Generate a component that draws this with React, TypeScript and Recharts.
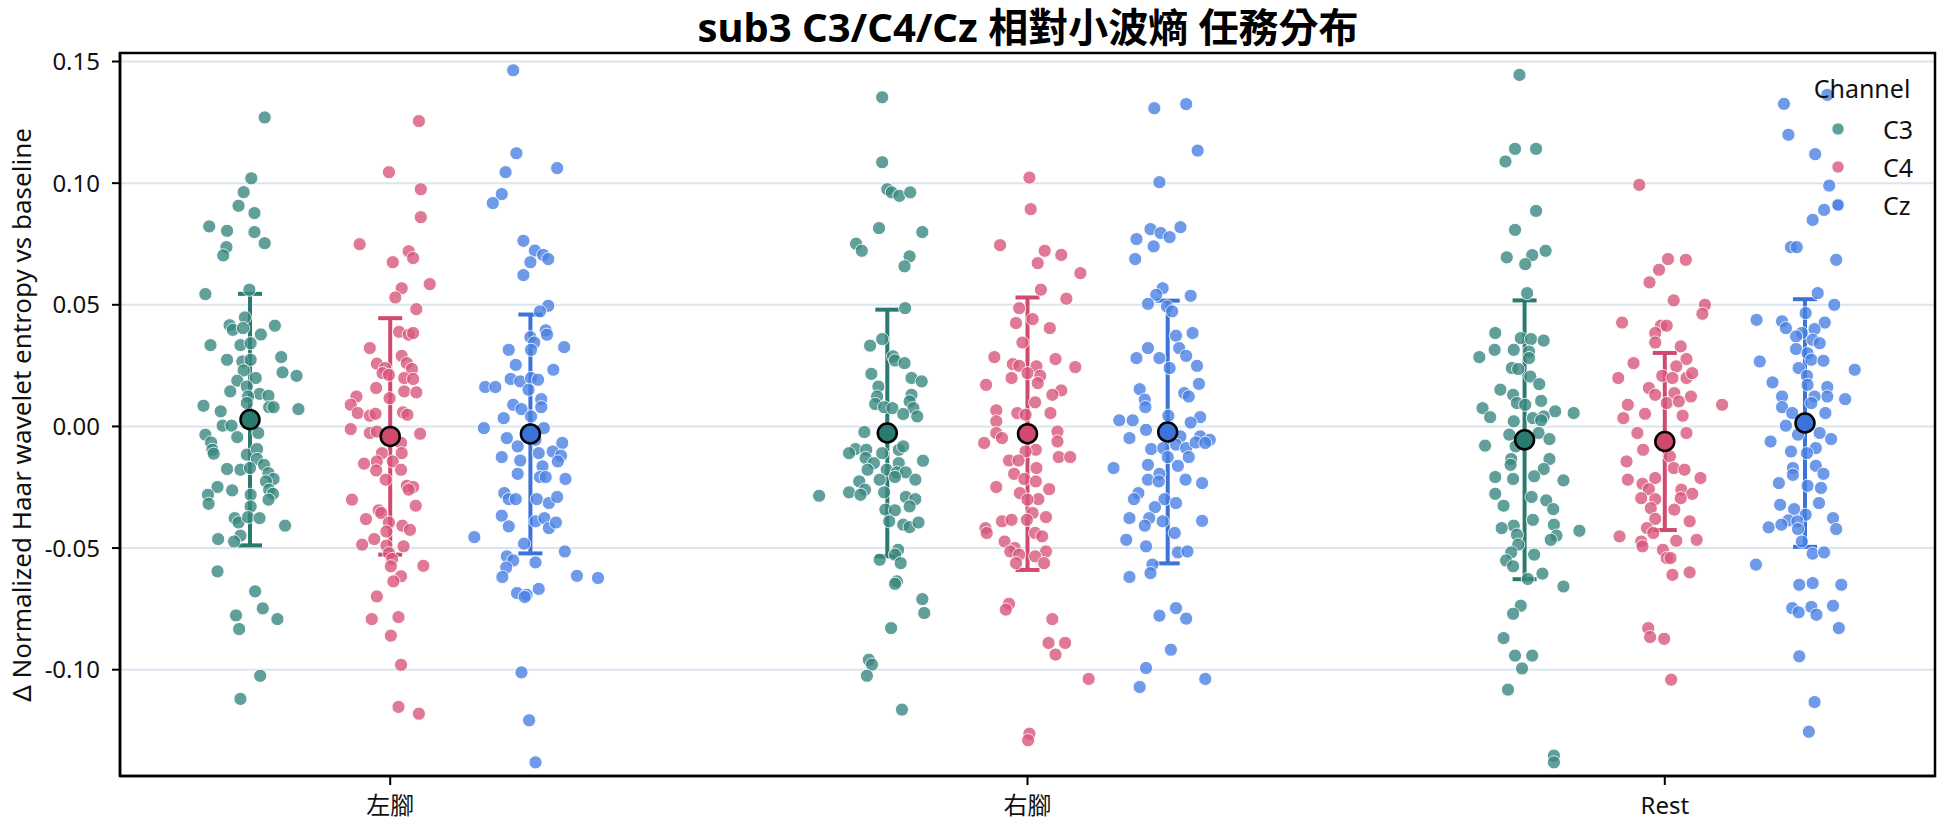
import React from 'react';
import { ScatterChart, Scatter, XAxis, YAxis, CartesianGrid, ErrorBar, ReferenceArea } from 'recharts';

const categories = ['左腳', '右腳', 'Rest'];
const channels = ['C3', 'C4', 'Cz'];
const yTicks = [-0.1, -0.05, 0, 0.05, 0.1, 0.15];
const xTicks = [0, 1, 2];

// each point: [jitter (category units), value]
const c3Left = [
  [0.023,0.127],[0.002,0.102],[-0.010,0.0963],[-0.018,0.0907],[0.007,0.0877],[-0.064,0.0822],[-0.036,0.0804],[0.007,0.0799],
  [0.023,0.0753],[-0.037,0.0737],[-0.042,0.0703],[-0.070,0.0544],[-0.001,0.0562],[-0.008,0.0448],[-0.032,0.0416],[-0.027,0.0397],
  [-0.011,0.0404],[0.039,0.0414],[0.017,0.0378],[-0.062,0.0334],[-0.015,0.0334],[0.001,0.0342],[-0.036,0.0274],[-0.012,0.0267],
  [0.001,0.0274],[0.049,0.0285],[-0.010,0.023],[0.051,0.0222],[0.073,0.0208],[0.009,0.0199],[-0.020,0.0188],[-0.031,0.0144],
  [-0.005,0.0164],[0.015,0.0134],[0.029,0.0126],[-0.003,0.0123],[-0.073,0.0085],[-0.046,0.0062],[0.030,0.0079],[0.037,0.0079],
  [0.076,0.0071],[-0.005,0.0096],[-0.043,0.0003],[-0.029,0.0003],[-0.070,-0.0034],[-0.020,-0.0044],[0.013,-0.0027],[-0.061,-0.0066],
  [-0.059,-0.0096],[-0.057,-0.0112],[-0.005,-0.0116],[0.011,-0.0093],[0.011,-0.0134],[0.022,-0.0158],[-0.036,-0.0175],[-0.015,-0.0178],
  [0,-0.0171],[0.029,-0.0192],[0.037,-0.0216],[0.025,-0.0226],[-0.051,-0.0249],[-0.028,-0.0263],[0.030,-0.026],[-0.066,-0.0281],
  [0.001,-0.0281],[0.036,-0.0277],[0.029,-0.0301],[-0.065,-0.0318],[0.001,-0.0329],[-0.024,-0.0377],[-0.018,-0.0395],[-0.003,-0.0373],
  [0.015,-0.0377],[0.055,-0.0408],[-0.050,-0.0463],[-0.015,-0.0449],[-0.025,-0.0473],[-0.051,-0.0596],[0.008,-0.0678],[0.020,-0.0748],
  [-0.022,-0.0777],[0.043,-0.0792],[-0.017,-0.0833],[0.016,-0.1025],[-0.015,-0.112],
];
const c3Right = [
  [-0.008,0.1353],[-0.008,0.1086],[0,0.0975],[0.007,0.0962],[0.019,0.0948],[0.036,0.0962],[-0.013,0.0815],[0.055,0.0799],
  [-0.049,0.0751],[-0.040,0.0722],[0.035,0.0699],[0.027,0.0658],[0.028,0.0486],[-0.008,0.0359],[-0.027,0.0332],[0.009,0.0288],
  [0.012,0.0271],[0.027,0.026],[-0.025,0.0216],[0.038,0.0199],[0.054,0.0185],[-0.014,0.0164],[-0.016,0.0123],[0.038,0.013],
  [-0.019,0.0092],[-0.005,0.0079],[0.008,0.0075],[0.035,0.0103],[0.041,0.0075],[0.025,0.0051],[0.047,0.0041],[-0.036,-0.0023],
  [-0.050,-0.0093],[-0.060,-0.011],[-0.033,-0.0096],[-0.008,-0.011],[0.018,-0.0096],[0.025,-0.0082],[-0.034,-0.013],[-0.021,-0.0151],
  [0.018,-0.0151],[0.056,-0.0141],[-0.031,-0.0178],[-0.001,-0.0178],[0.015,-0.0189],[0.029,-0.0189],[-0.044,-0.0226],[-0.012,-0.0219],
  [0.012,-0.0208],[0.044,-0.0219],[-0.060,-0.0271],[-0.035,-0.026],[-0.005,-0.0271],[-0.107,-0.0285],[-0.042,-0.0281],[0.029,-0.029],
  [0.044,-0.0299],[0.035,-0.0329],[-0.003,-0.0342],[0.012,-0.0345],[0.003,-0.039],[0.025,-0.0404],[0.035,-0.0414],[0.049,-0.0395],
  [0.017,-0.0507],[0.012,-0.0527],[-0.012,-0.0548],[0.021,-0.0562],[0.015,-0.0637],[0.012,-0.0647],[0.055,-0.071],[0.058,-0.0767],
  [0.006,-0.0829],[-0.029,-0.0959],[-0.024,-0.0979],[-0.032,-0.1025],[0.023,-0.1164],
];
const c3Rest = [
  [-0.008,0.1445],[-0.015,0.1141],[0.018,0.1141],[-0.030,0.1089],[0.018,0.0886],[-0.015,0.0808],[-0.028,0.0695],[0.012,0.0704],
  [0.033,0.0722],[0.001,0.0667],[0.004,0.0548],[-0.046,0.0384],[-0.006,0.0363],[0.010,0.0359],[0.030,0.0353],[-0.071,0.0285],
  [-0.047,0.0315],[-0.017,0.0315],[0.007,0.0308],[0.007,0.0281],[-0.020,0.024],[-0.010,0.0236],[0.009,0.0205],[0.023,0.0174],
  [-0.038,0.0151],[-0.018,0.013],[0.026,0.0105],[-0.012,0.0096],[0.001,0.0089],[-0.066,0.0075],[0.048,0.0062],[0.077,0.0055],
  [-0.054,0.0038],[0.030,0.0041],[0.013,0.0034],[-0.017,0.0021],[0.026,0.0025],[0.022,-0.0027],[-0.024,-0.0034],[0.039,-0.0052],
  [-0.062,-0.0079],[-0.014,-0.0082],[-0.021,-0.0134],[0.039,-0.0134],[-0.022,-0.0158],[0.030,-0.0175],[0.015,-0.0205],[-0.046,-0.0208],
  [-0.018,-0.0216],[0.061,-0.0222],[-0.046,-0.0277],[0.011,-0.029],[0.034,-0.0304],[-0.033,-0.0326],[0.045,-0.034],[0.013,-0.0384],
  [-0.017,-0.0408],[-0.036,-0.0418],[0.046,-0.0404],[0.086,-0.0429],[-0.012,-0.0445],[0.050,-0.0449],[0.041,-0.0466],[-0.010,-0.0486],
  [-0.021,-0.0518],[0.015,-0.0527],[-0.029,-0.0551],[-0.018,-0.0575],[0.028,-0.0605],[0.005,-0.0627],[0.061,-0.0658],[-0.006,-0.0737],
  [-0.018,-0.077],[-0.033,-0.087],[-0.015,-0.0942],[0.012,-0.0942],[-0.004,-0.0995],[-0.026,-0.1082],[0.046,-0.1353],[0.046,-0.1381],
];
const c4Left = [
  [0.045,0.1255],[-0.002,0.1045],[0.048,0.0975],[0.048,0.086],[-0.048,0.0749],[0.029,0.072],[0.036,0.0692],[0.004,0.0675],
  [0.018,0.0568],[0.062,0.0585],[0.008,0.053],[0.041,0.0482],[0.014,0.0389],[0.029,0.0377],[0.036,0.0384],[-0.032,0.0322],
  [0.018,0.029],[-0.021,0.0258],[-0.008,0.024],[0.026,0.026],[0.034,0.0236],[-0.012,0.0219],[-0.002,0.0212],[0.022,0.0199],
  [0.036,0.0195],[-0.022,0.0158],[-0.053,0.0123],[-0.001,0.0116],[0.022,0.0144],[0.041,0.014],[-0.062,0.0089],[-0.051,0.0055],
  [-0.032,0.0044],[-0.023,0.0052],[0.020,0.0058],[0.027,0.0048],[-0.062,-0.0011],[-0.032,-0.0027],[-0.021,-0.0021],[0.047,-0.003],
  [0.017,-0.0068],[0.018,-0.011],[-0.013,-0.011],[-0.041,-0.0153],[-0.021,-0.0144],[0.004,-0.0144],[-0.022,-0.0181],[0.017,-0.0178],
  [-0.007,-0.0219],[0.026,-0.0244],[0.036,-0.0249],[0.029,-0.026],[-0.060,-0.0301],[0.040,-0.0326],[-0.018,-0.0345],[-0.014,-0.0356],
  [-0.038,-0.0381],[-0.002,-0.0395],[0.019,-0.0408],[0.031,-0.0425],[-0.006,-0.0432],[-0.025,-0.0463],[-0.044,-0.0486],[-0.006,-0.049],
  [0.021,-0.0493],[-0.002,-0.0521],[0.003,-0.0545],[0.052,-0.0573],[0.001,-0.0575],[0.017,-0.0616],[0.005,-0.0637],[-0.021,-0.0699],
  [-0.029,-0.0792],[0.013,-0.0784],[0.001,-0.086],[0.017,-0.098],[0.013,-0.1153],[0.045,-0.1181],
];
const c4Right = [
  [0.003,0.1023],[0.005,0.0893],[-0.043,0.0745],[0.027,0.0722],[0.053,0.0705],[0.016,0.0671],[0.083,0.063],[0.021,0.0562],
  [0.061,0.0525],[-0.013,0.0486],[-0.018,0.0425],[0.008,0.0441],[0.035,0.0404],[-0.008,0.0345],[-0.052,0.0285],[0.044,0.0277],
  [0.075,0.0244],[-0.023,0.0256],[-0.013,0.0249],[0.014,0.0247],[0,0.0219],[0.020,0.0208],[-0.025,0.0199],[-0.065,0.0171],
  [0.016,0.0178],[0.053,0.0148],[0.039,0.013],[0.012,0.0099],[-0.049,0.0066],[-0.016,0.0055],[0.036,0.0055],[-0.003,0.0048],
  [-0.049,0.0021],[0.047,-0.0021],[-0.049,-0.0027],[-0.040,-0.0048],[-0.068,-0.0068],[0.047,-0.0062],[0.013,-0.0096],[-0.003,-0.0103],
  [-0.029,-0.014],[-0.014,-0.014],[0.049,-0.0126],[0.067,-0.0126],[0.014,-0.0171],[-0.021,-0.0195],[-0.005,-0.0216],[0.013,-0.0226],
  [-0.049,-0.0249],[0.034,-0.0258],[-0.012,-0.0274],[0.017,-0.0299],[0,-0.0301],[0.008,-0.0356],[0.029,-0.0373],[-0.040,-0.039],
  [-0.025,-0.0384],[-0.001,-0.0384],[-0.066,-0.0418],[-0.064,-0.0438],[0.012,-0.0438],[0.023,-0.0452],[-0.036,-0.0473],[-0.020,-0.05],
  [-0.027,-0.0514],[0.029,-0.0514],[-0.013,-0.0527],[0.012,-0.0534],[-0.018,-0.0562],[0.026,-0.0562],[-0.029,-0.0729],[-0.034,-0.0753],
  [0.039,-0.0792],[0.033,-0.089],[0.059,-0.089],[0.044,-0.0938],[0.096,-0.1038],[0.003,-0.1263],[0.001,-0.129],
];
const c4Rest = [
  [-0.040,0.0993],[0.005,0.0688],[0.033,0.0685],[-0.009,0.0644],[-0.024,0.0592],[0.014,0.0518],[0.063,0.05],[0.059,0.0463],
  [-0.067,0.0427],[-0.006,0.0414],[0.003,0.0414],[-0.015,0.0384],[-0.015,0.0345],[0.025,0.0329],[-0.049,0.026],[0.034,0.0277],
  [0.018,0.0247],[-0.073,0.0199],[-0.004,0.0208],[0.012,0.0199],[0.034,0.0199],[0.043,0.0219],[-0.025,0.0158],[-0.015,0.013],
  [0.015,0.0137],[0.041,0.0123],[-0.058,0.0089],[0.003,0.0096],[0.022,0.0103],[0.090,0.0089],[-0.031,0.0052],[-0.065,0.0034],
  [0.028,0.0044],[-0.043,-0.0027],[0.034,-0.0027],[-0.034,-0.0096],[-0.060,-0.0144],[0.008,-0.0123],[0.014,-0.0171],[0.031,-0.0178],
  [-0.015,-0.0212],[-0.058,-0.0219],[0.056,-0.0212],[-0.035,-0.0236],[-0.025,-0.0258],[0.026,-0.026],[0.043,-0.0277],[-0.037,-0.0295],
  [-0.015,-0.0299],[0.025,-0.0295],[-0.022,-0.0336],[0.015,-0.0342],[-0.015,-0.038],[0.039,-0.039],[-0.028,-0.0418],[-0.018,-0.0438],
  [-0.071,-0.0452],[-0.037,-0.0473],[0.018,-0.047],[0.050,-0.0466],[-0.035,-0.0493],[-0.003,-0.0507],[0.003,-0.0541],[0.009,-0.0541],
  [0.012,-0.061],[0.039,-0.06],[-0.026,-0.0829],[-0.023,-0.0866],[-0.001,-0.0873],[0.010,-0.1041],
];
const czLeft = [
  [-0.027,0.1464],[-0.022,0.1123],[-0.039,0.1045],[0.042,0.1062],[-0.045,0.0955],[-0.059,0.0918],[-0.011,0.0763],[0.007,0.0723],
  [0.020,0.0705],[0.028,0.0688],[0,0.0675],[-0.011,0.0622],[0.028,0.0496],[0.015,0.0473],[0,0.0367],[0.006,0.0345],
  [0.024,0.0395],[0.026,0.0377],[-0.034,0.0315],[0.001,0.0315],[0.053,0.0326],[-0.023,0.0253],[0.036,0.0233],[-0.031,0.0195],
  [-0.016,0.0185],[0.001,0.0199],[0.012,0.0192],[-0.071,0.0162],[-0.055,0.0162],[-0.003,0.0151],[0.017,0.0112],[-0.027,0.0089],
  [-0.014,0.0071],[0.017,0.0079],[-0.042,0.0034],[0.001,0.0041],[-0.073,-0.0007],[0.021,-0.0007],[-0.037,-0.0048],[-0.020,-0.0082],
  [0.008,-0.0055],[0.050,-0.0068],[0.035,-0.0103],[0.048,-0.012],[-0.045,-0.0126],[-0.016,-0.014],[0.013,-0.011],[0.043,-0.0144],
  [0.019,-0.0164],[-0.020,-0.0195],[0.015,-0.0208],[0.024,-0.0208],[0.055,-0.0216],[-0.041,-0.0274],[-0.034,-0.0299],[-0.023,-0.0299],
  [0.010,-0.0299],[0.029,-0.0315],[0.042,-0.029],[-0.045,-0.0367],[-0.034,-0.0411],[0.008,-0.039],[0.022,-0.0377],[0.029,-0.0418],
  [0.040,-0.0395],[-0.088,-0.0455],[-0.010,-0.0482],[0.054,-0.0514],[-0.037,-0.0534],[-0.027,-0.0551],[0.008,-0.0559],[-0.038,-0.058],
  [-0.044,-0.0619],[0.073,-0.0614],[0.106,-0.0623],[0.013,-0.0668],[-0.021,-0.0685],[-0.006,-0.0692],[-0.009,-0.0701],[-0.014,-0.1011],
  [-0.002,-0.1208],[0.008,-0.1381],
];
const czRight = [
  [-0.021,0.1308],[0.029,0.1325],[0.047,0.1134],[-0.013,0.1004],[0.020,0.0819],[-0.027,0.0811],[-0.011,0.0795],[0.003,0.0778],
  [-0.049,0.077],[-0.022,0.074],[-0.051,0.0688],[-0.008,0.0568],[-0.018,0.0541],[0.036,0.0537],[-0.031,0.0504],[-0.001,0.0493],
  [0.007,0.0473],[0.013,0.0373],[0.039,0.0384],[-0.031,0.0322],[0.018,0.0322],[-0.049,0.0281],[-0.013,0.0281],[0.003,0.024],
  [0.029,0.029],[0.046,0.0249],[0.049,0.0175],[-0.044,0.0153],[0.026,0.0137],[0.033,0.0123],[-0.036,0.011],[-0.035,0.0079],
  [-0.076,0.0025],[-0.055,0.0025],[0.001,0.0044],[0.051,0.0038],[-0.034,-0.0014],[0.036,0.0016],[-0.060,-0.0048],[0.020,-0.0041],
  [0.051,-0.0041],[0.066,-0.0055],[-0.026,-0.0093],[-0.007,-0.0089],[0.013,-0.0075],[0.029,-0.0089],[0.044,-0.0066],[0.059,-0.0068],
  [0,-0.0126],[0.033,-0.0126],[-0.085,-0.0171],[-0.031,-0.0158],[0.016,-0.0162],[-0.013,-0.0195],[-0.031,-0.0219],[-0.014,-0.0226],
  [0.028,-0.0219],[0.054,-0.0233],[-0.046,-0.0274],[-0.053,-0.0299],[-0.005,-0.0299],[0.013,-0.0315],[-0.020,-0.0332],[-0.060,-0.0377],
  [-0.029,-0.0377],[-0.036,-0.0408],[-0.008,-0.039],[0.054,-0.0388],[0.011,-0.0438],[-0.065,-0.0466],[-0.034,-0.0493],[0.016,-0.0518],
  [0.031,-0.0514],[-0.024,-0.0568],[-0.027,-0.0603],[-0.060,-0.0619],[0.013,-0.0747],[-0.013,-0.0778],[0.029,-0.079],[0.005,-0.0918],
  [-0.034,-0.0993],[-0.044,-0.1071],[0.059,-0.1038],
];
const czRest = [
  [0.035,0.1363],[-0.033,0.1326],[-0.026,0.1199],[0.016,0.1119],[0.038,0.099],[0.052,0.0911],[0.030,0.089],[0.012,0.0849],
  [-0.022,0.0737],[-0.013,0.0737],[0.049,0.0685],[0.020,0.0548],[0.046,0.05],[-0.076,0.0438],[-0.036,0.0432],[0.001,0.0466],
  [0.031,0.0427],[-0.030,0.0404],[-0.005,0.0384],[0.015,0.04],[-0.014,0.037],[0.012,0.0356],[0.023,0.0342],[-0.014,0.0318],
  [-0.071,0.0267],[0.004,0.0301],[0.010,0.0274],[0.029,0.027],[-0.010,0.024],[0.078,0.0233],[0.003,0.0208],[-0.051,0.0181],
  [0.004,0.0171],[0.035,0.0162],[0.035,0.0123],[-0.036,0.0123],[0.015,0.0123],[0.063,0.0112],[-0.036,0.0079],[0.010,0.0096],
  [-0.020,0.0055],[0.032,0.0055],[-0.030,0.0003],[-0.011,-0.0034],[0.023,-0.0027],[0.041,-0.0052],[-0.054,-0.0062],[0.017,-0.0089],
  [-0.022,-0.0103],[0.003,-0.011],[0.017,-0.0162],[-0.019,-0.0171],[0.029,-0.0195],[-0.019,-0.0199],[-0.041,-0.0233],[0.004,-0.0244],
  [0.025,-0.0253],[-0.039,-0.0322],[-0.017,-0.034],[0.022,-0.0315],[0.001,-0.0363],[0.044,-0.0377],[-0.026,-0.0386],[-0.012,-0.039],
  [-0.057,-0.0415],[-0.037,-0.0404],[-0.011,-0.0422],[0.049,-0.0422],[-0.005,-0.0473],[0.012,-0.0523],[0.030,-0.0518],[-0.077,-0.0568],
  [-0.009,-0.0651],[0.012,-0.0644],[0.057,-0.0651],[-0.020,-0.0747],[-0.010,-0.0764],[0.010,-0.0742],[0.018,-0.0774],[0.044,-0.0737],
  [0.053,-0.0829],[-0.009,-0.0945],[0.015,-0.1133],[0.006,-0.1255],
];

const meanC3 = [0.0028, -0.0027, -0.0055];
const sdC3 = [0.0517, 0.0507, 0.0573];
const meanC4 = [-0.0041, -0.003, -0.0062];
const sdC4 = [0.0486, 0.056, 0.0364];
const meanCz = [-0.0031, -0.0023, 0.0014];
const sdCz = [0.0491, 0.054, 0.0509];

const pointColors = ['#3a8881', '#d9587c', '#4a82e4'];
const meanColors = ['#2b7a70', '#d04a6d', '#3b73d9'];
const offsets = [-0.22, 0, 0.22];

const W = 1944;
const H = 827;
const X_DOMAIN: [number, number] = [-0.424, 2.424];
const Y_DOMAIN: [number, number] = [-0.1437, 0.1535];
const FONT = '"Noto Sans", "Noto Sans CJK TC", sans-serif';

const groups = [
  [c3Left, c3Right, c3Rest],
  [c4Left, c4Right, c4Rest],
  [czLeft, czRight, czRest],
];
const means = [meanC3, meanC4, meanCz];
const sds = [sdC3, sdC4, sdCz];

const pointData = groups.map((chGroups, ch) =>
  chGroups.flatMap((g, ci) => g.map(([j, v]) => ({ x: ci + offsets[ch] + j, y: v })))
);
const meanData = means.map((m, ch) =>
  m.map((v, ci) => ({ x: ci + offsets[ch], y: v, err: sds[ch][ci] }))
);

const makeDot = (color: string) => (props: any) => (
  <circle cx={props.cx} cy={props.cy} r={6.6} fill={color} stroke="#ffffff" strokeWidth={1} opacity={0.8} />
);
const makeMean = (color: string) => (props: any) => (
  <circle cx={props.cx} cy={props.cy} r={9.5} fill={color} stroke="#000000" strokeWidth={2.5} />
);

export default function App() {
  return (
    <div style={{ position: 'absolute', left: 0, top: 0, width: W, height: H, background: '#fff' }}>
      <ScatterChart width={W} height={H} margin={{ top: 53, right: 9, bottom: 0, left: 0 }}>
        <CartesianGrid vertical={false} stroke="#dbe5ee" strokeWidth={2} />
        <XAxis
          type="number"
          dataKey="x"
          domain={X_DOMAIN}
          allowDataOverflow
          ticks={xTicks}
          tickFormatter={(v: number) => categories[v]}
          height={51}
          axisLine={{ stroke: '#000', strokeWidth: 2.5 }}
          tickLine={{ stroke: '#000', strokeWidth: 2 }}
          tickSize={9}
          tickMargin={12}
          tick={{ fill: '#111', fontSize: 24, fontFamily: FONT }}
        />
        <YAxis
          type="number"
          dataKey="y"
          domain={Y_DOMAIN}
          allowDataOverflow
          ticks={yTicks}
          tickFormatter={(v: number) => v.toFixed(2)}
          width={120}
          axisLine={{ stroke: '#000', strokeWidth: 2.5 }}
          tickLine={{ stroke: '#000', strokeWidth: 2 }}
          tickSize={8}
          tickMargin={12}
          tick={{ fill: '#111', fontSize: 24, fontFamily: FONT }}
        />
        {pointData.map((d, ch) => (
          <Scatter key={'p' + ch} name={channels[ch]} data={d} isAnimationActive={false} shape={makeDot(pointColors[ch])} />
        ))}
        {meanData.map((d, ch) => (
          <Scatter key={'m' + ch} data={d} isAnimationActive={false} shape={makeMean(meanColors[ch])}>
            <ErrorBar dataKey="err" direction="y" width={12} strokeWidth={4} stroke={meanColors[ch]} />
          </Scatter>
        ))}
        <ReferenceArea
          x1={X_DOMAIN[0]}
          x2={X_DOMAIN[1]}
          y1={Y_DOMAIN[0]}
          y2={Y_DOMAIN[1]}
          fill="none"
          stroke="#000"
          strokeWidth={2.5}
          ifOverflow="visible"
        />
      </ScatterChart>
      <svg width={W} height={H} style={{ position: 'absolute', left: 0, top: 0, pointerEvents: 'none' }}>
        <text x={1028} y={42} textAnchor="middle" fontSize={40} fontWeight={700} fontFamily={FONT} fill="#000">
          sub3 C3/C4/Cz 相對小波熵 任務分布
        </text>
        <text
          transform="translate(21,415) rotate(-90)"
          textAnchor="middle"
          dominantBaseline="central"
          fontSize={26}
          fontFamily={FONT}
          fill="#111"
        >
          Δ Normalized Haar wavelet entropy vs baseline
        </text>
        <text x={1862} y={88} textAnchor="middle" dominantBaseline="central" fontSize={25} fontFamily={FONT} fill="#111">
          Channel
        </text>
        {channels.map((c, i) => (
          <g key={c}>
            <circle cx={1838} cy={129 + i * 38} r={6.2} fill={pointColors[i]} stroke="#fff" strokeWidth={1} opacity={0.8} />
            <text x={1883} y={129 + i * 38} dominantBaseline="central" fontSize={25} fontFamily={FONT} fill="#111">
              {c}
            </text>
          </g>
        ))}
      </svg>
    </div>
  );
}
